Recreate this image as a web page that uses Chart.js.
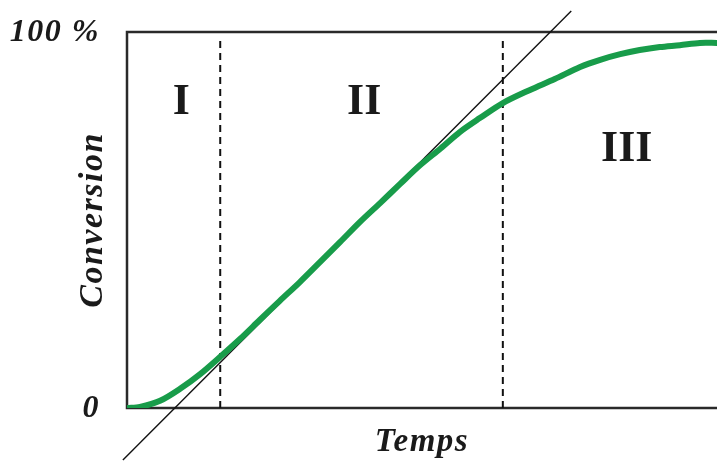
<!DOCTYPE html>
<html>
<head>
<meta charset="utf-8">
<script src="https://cdn.jsdelivr.net/npm/chart.js@4/dist/chart.umd.min.js"></script>
<style>
  body { margin: 0; background: #fff; }
  #box { width: 717px; height: 463px; }
</style>
</head>
<body>
<div id="box"><canvas id="grafico"></canvas></div>
<script>
// courbe de conversion (temps en %, conversion en %)
const temps = [0, 2.2, 5.6, 9.0, 12.4, 15.8, 19.2, 22.5, 25.9, 29.3, 32.7, 36.1, 39.5, 42.9, 46.3, 49.7,
  53.2, 56.4, 59.8, 63.7, 68.3, 72.5, 76.8, 80.2, 83.6, 86.9, 90.3, 93.7, 97.1, 100]
const conversion = [0, 0.3, 1.9, 5.1, 9.0, 13.6, 18.4, 23.4, 28.5, 33.5, 38.8, 44.1, 49.5, 54.5, 59.6, 64.6,
  69.1, 73.4, 77.1, 81.1, 84.6, 87.5, 90.7, 92.6, 94.1, 95.2, 96.0, 96.5, 97.1, 97.1]

// tangente au point d'inflexion
const tangenteX = [-0.7, 75.3]
const tangenteY = [-13.8, 105.6]

// limites des zones
const limites = [15.8, 63.7]
const limiteHaut = 97.9

const zones = ['I', 'II', 'III']
const zonesX = [9.2, 40.2, 84.7]
const zonesY = [81.1, 81.1, 68.6]

const yTicks = [0, 100]
const yLabels = ['0', '100 %']

const police = '"Liberation Serif", "DejaVu Serif", serif'
const vert = 'rgb(24, 156, 74)'

const pts = (xs, ys) => xs.map((x, i) => ({ x: x, y: ys[i] }))

const datasets = [
  {
    data: pts(temps, conversion),
    borderColor: vert,
    borderWidth: 6,
    pointRadius: 0,
    tension: 0.3
  },
  {
    data: pts(tangenteX, tangenteY),
    borderColor: '#111',
    borderWidth: 1.4,
    pointRadius: 0,
    clip: false
  }
]
limites.forEach(l => {
  datasets.push({
    data: pts([l, l], [0, limiteHaut]),
    borderColor: '#111',
    borderWidth: 2,
    borderDash: [7, 5],
    pointRadius: 0
  })
})

// cadre + chiffres romains
const decor = {
  id: 'decor',
  beforeDraw(chart) {
    // le texte de l'original est un peu plus large
    chart.ctx.letterSpacing = '1.5px'
  },
  beforeDatasetsDraw(chart) {
    const { ctx, chartArea: a } = chart
    ctx.save()
    ctx.strokeStyle = '#2a2a2a'
    ctx.lineWidth = 2.5
    ctx.beginPath()
    ctx.moveTo(a.right, a.top)
    ctx.lineTo(a.left, a.top)
    ctx.lineTo(a.left, a.bottom)
    ctx.lineTo(a.right, a.bottom)
    ctx.stroke()
    ctx.restore()
  },
  afterDatasetsDraw(chart) {
    const { ctx, scales: { x, y } } = chart
    ctx.save()
    ctx.letterSpacing = '0px'
    ctx.fillStyle = '#1a1a1a'
    ctx.font = 'bold 44px ' + police
    ctx.textAlign = 'center'
    ctx.textBaseline = 'middle'
    zones.forEach((z, i) => {
      ctx.fillText(z, x.getPixelForValue(zonesX[i]), y.getPixelForValue(zonesY[i]))
    })
    ctx.restore()
  }
}

new Chart(document.getElementById('grafico'), {
  type: 'line',
  data: { datasets: datasets },
  options: {
    responsive: true,
    maintainAspectRatio: false,
    animation: false,
    layout: { padding: { top: 32, right: 0, bottom: 0, left: 0 } },
    plugins: { legend: { display: false }, tooltip: { enabled: false } },
    scales: {
      x: {
        type: 'linear',
        min: 0,
        max: 100,
        grid: { display: false },
        border: { display: false },
        ticks: { display: false },
        title: {
          display: true,
          text: 'Temps',
          color: '#1a1a1a',
          font: { family: police, size: 33, weight: 'bold', style: 'italic' },
          padding: { top: 0, bottom: 1 }
        },
        afterFit: s => { s.height = 55 }
      },
      y: {
        min: 0,
        max: 100,
        grid: { display: false, drawTicks: false },
        border: { display: false },
        afterBuildTicks: s => { s.ticks = yTicks.map(v => ({ value: v })) },
        ticks: {
          padding: 27,
          labelOffset: 1,
          color: '#1a1a1a',
          font: { family: police, size: 32, weight: 'bold', style: 'italic', lineHeight: 0.3 },
          callback: v => yLabels[yTicks.indexOf(v)]
        },
        title: {
          display: true,
          text: 'Conversion',
          color: '#1a1a1a',
          font: { family: police, size: 34, weight: 'bold', style: 'italic' },
          padding: { top: 73, bottom: 0 }
        },
        afterFit: s => { s.width = 127 }
      }
    }
  },
  plugins: [decor]
})
</script>
</body>
</html>
